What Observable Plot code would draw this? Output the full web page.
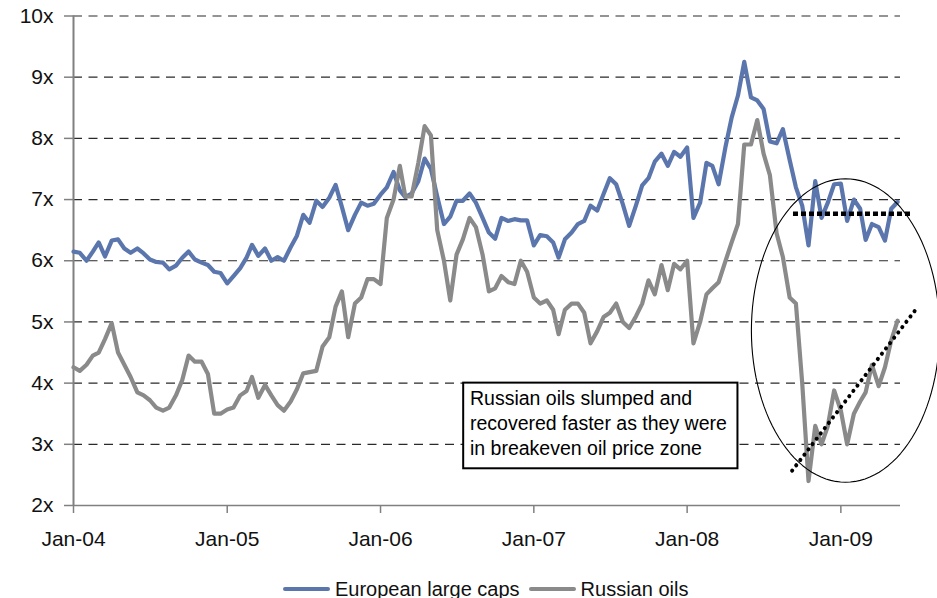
<!DOCTYPE html>
<html><head><meta charset="utf-8">
<script src="https://cdn.jsdelivr.net/npm/d3@7"></script>
<script src="https://cdn.jsdelivr.net/npm/@observablehq/plot@0.6"></script>
<style>
html,body{margin:0;padding:0;background:#fff;}
#wrap{position:relative;width:937px;height:598px;overflow:hidden;font-family:"Liberation Sans",Arial,sans-serif;}
#legend{position:absolute;left:283px;top:577px;height:24px;display:flex;align-items:center;font-size:20px;color:#111;white-space:nowrap;}
.sw{display:inline-block;width:47px;height:4px;margin-right:5px;border-radius:2px;}
.item{display:flex;align-items:center;margin-right:9px;}
</style></head><body><div id="wrap"><div id="chart"></div><div id="legend"></div></div>
<script>
const dates = [
"2004-01-01","2004-01-16","2004-02-01","2004-02-16","2004-03-01","2004-03-16","2004-04-01","2004-04-16","2004-05-01","2004-05-16","2004-06-01","2004-06-16",
"2004-07-01","2004-07-16","2004-08-01","2004-08-16","2004-09-01","2004-09-16","2004-10-01","2004-10-16","2004-11-01","2004-11-16","2004-12-01","2004-12-16",
"2005-01-01","2005-01-16","2005-02-01","2005-02-16","2005-03-01","2005-03-16","2005-04-01","2005-04-16","2005-05-01","2005-05-16","2005-06-01","2005-06-16",
"2005-07-01","2005-07-16","2005-08-01","2005-08-16","2005-09-01","2005-09-16","2005-10-01","2005-10-16","2005-11-01","2005-11-16","2005-12-01","2005-12-16",
"2006-01-01","2006-01-16","2006-02-01","2006-02-16","2006-03-01","2006-03-16","2006-04-01","2006-04-16","2006-05-01","2006-05-16","2006-06-01","2006-06-16",
"2006-07-01","2006-07-16","2006-08-01","2006-08-16","2006-09-01","2006-09-16","2006-10-01","2006-10-16","2006-11-01","2006-11-16","2006-12-01","2006-12-16",
"2007-01-01","2007-01-16","2007-02-01","2007-02-16","2007-03-01","2007-03-16","2007-04-01","2007-04-16","2007-05-01","2007-05-16","2007-06-01","2007-06-16",
"2007-07-01","2007-07-16","2007-08-01","2007-08-16","2007-09-01","2007-09-16","2007-10-01","2007-10-16","2007-11-01","2007-11-16","2007-12-01","2007-12-16",
"2008-01-01","2008-01-16","2008-02-01","2008-02-16","2008-03-01","2008-03-16","2008-04-01","2008-04-16","2008-05-01","2008-05-16","2008-06-01","2008-06-16",
"2008-07-01","2008-07-16","2008-08-01","2008-08-16","2008-09-01","2008-09-16","2008-10-01","2008-10-16","2008-11-01","2008-11-16","2008-12-01","2008-12-16",
"2009-01-01","2009-01-16","2009-02-01","2009-02-16","2009-03-01","2009-03-16","2009-04-01","2009-04-16","2009-05-01","2009-05-16"
];

const europeanLargeCaps = [
6.15,6.13,6.0,6.15,6.3,6.07,6.33,6.35,6.2,6.13,6.2,6.12,
6.02,5.98,5.97,5.86,5.92,6.05,6.15,6.02,5.97,5.93,5.82,5.8,
5.63,5.75,5.88,6.05,6.26,6.08,6.2,6.0,6.06,6.0,6.22,6.41,
6.75,6.62,6.98,6.88,7.03,7.24,6.88,6.5,6.75,6.95,6.9,6.93,
7.08,7.2,7.45,7.15,7.04,7.1,7.3,7.67,7.5,7.05,6.6,6.72,
6.98,6.98,7.1,6.95,6.7,6.46,6.36,6.7,6.65,6.68,6.66,6.66,
6.25,6.42,6.4,6.3,6.05,6.35,6.46,6.6,6.65,6.9,6.82,7.09,
7.35,7.25,6.92,6.57,6.9,7.23,7.35,7.62,7.75,7.55,7.78,7.7,
7.85,6.7,6.95,7.6,7.55,7.25,7.85,8.34,8.7,9.25,8.67,8.62,
8.48,7.95,7.92,8.15,7.65,7.2,6.9,6.25,7.3,6.7,6.95,7.25,
7.26,6.65,7.0,6.85,6.34,6.6,6.55,6.33,6.85,6.96
];

const russianOils = [
4.26,4.2,4.3,4.45,4.5,4.72,4.98,4.5,4.3,4.1,3.85,3.8,
3.72,3.6,3.55,3.6,3.8,4.05,4.45,4.35,4.35,4.15,3.5,3.5,
3.57,3.6,3.8,3.87,4.1,3.76,3.97,3.8,3.64,3.55,3.7,3.9,
4.16,4.18,4.2,4.6,4.75,5.25,5.5,4.75,5.3,5.4,5.7,5.7,
5.62,6.7,7.0,7.55,7.05,7.05,7.6,8.2,8.05,6.5,6.0,5.35,
6.1,6.35,6.7,6.55,6.1,5.5,5.55,5.75,5.65,5.62,6.0,5.82,
5.4,5.3,5.35,5.2,4.8,5.2,5.3,5.3,5.15,4.65,4.85,5.08,
5.15,5.3,5.0,4.9,5.09,5.3,5.68,5.45,5.93,5.52,5.95,5.86,
6.0,4.65,5.0,5.45,5.55,5.65,5.99,6.3,6.6,7.9,7.9,8.3,
7.75,7.4,6.45,6.06,5.4,5.3,4.0,2.4,3.3,3.0,3.3,3.88,
3.55,3.0,3.5,3.7,3.85,4.3,3.95,4.26,4.7,5.02
];

const seriesNames = ["European large caps", "Russian oils"];
const seriesColors = ["#5a76ad", "#8a8a8a"];
const yTickValues = [2, 3, 4, 5, 6, 7, 8, 9, 10];
const xTickDates = ["2004-01-01","2005-01-01","2006-01-01","2007-01-01","2008-01-01","2009-01-01"];
const xDomainDates = ["2004-01-01", "2009-05-23"];
const noteText = "Russian oils slumped and\nrecovered faster as they were\nin breakeven oil price zone";

const parse = d3.utcParse("%Y-%m-%d");
const xDomain = xDomainDates.map(parse);
const toRows = (vals) => dates.map((d, i) => ({date: parse(d), value: vals[i]}));
const euRows = toRows(europeanLargeCaps);
const ruRows = toRows(russianOils);

// annotations (in data coordinates)
const noteBox = {x1: parse("2006-07-18"), x2: parse("2008-05-01"), y1: 2.6, y2: 4.0};
const noteLabel = {x: parse("2006-08-02"), y: 3.36, text: noteText};
const flatLine = [{date: parse("2008-09-09"), value: 6.77}, {date: parse("2009-06-17"), value: 6.77}];
const trendLine = [{date: parse("2008-09-07"), value: 2.57}, {date: parse("2009-06-27"), value: 5.19}];
const ell = {cx: parse("2009-01-12"), cy: 4.86, rxDays: 224, ry: 2.48};
const ellipsePts = d3.range(0, 361, 3).map(a => {
  const t = a * Math.PI / 180;
  return {date: new Date(+ell.cx + Math.cos(t) * ell.rxDays * 864e5), value: ell.cy + Math.sin(t) * ell.ry};
});

const chart = Plot.plot({
  width: 937, height: 570,
  marginLeft: 73, marginRight: 37, marginTop: 15.5, marginBottom: 65,
  style: {fontFamily: "'Liberation Sans', Arial, sans-serif", fontSize: "21px", color: "#111", background: "#fff", overflow: "visible"},
  x: {type: "utc", domain: xDomain, ticks: xTickDates.map(parse), tickFormat: d3.utcFormat("%b-%y"), tickSize: 8, tickPadding: 18, label: null},
  y: {domain: [2, 10], ticks: yTickValues, tickFormat: d => d + "x", tickSize: 9, tickPadding: 11, label: null},
  marks: [
    Plot.ruleY(yTickValues.filter(v => v > 2), {stroke: "#2a2a2a", strokeWidth: 1.2, strokeDasharray: "9,6.5"}),
    Plot.rect([noteBox], {x1: "x1", x2: "x2", y1: "y1", y2: "y2", fill: "#fff", stroke: "#000", strokeWidth: 2}),
    Plot.text([noteLabel], {x: "x", y: "y", text: "text", textAnchor: "start", lineAnchor: "middle", lineHeight: 1.28, fontSize: 19.5, fill: "#000"}),
    Plot.ruleY([2], {stroke: "#808080", strokeWidth: 1.6}),
    Plot.ruleX([xDomain[0]], {y1: 2, y2: 10, stroke: "#808080", strokeWidth: 2}),
    Plot.line(euRows, {x: "date", y: "value", stroke: seriesColors[0], strokeWidth: 4.2}),
    Plot.line(ruRows, {x: "date", y: "value", stroke: seriesColors[1], strokeWidth: 4.2}),
    Plot.line(ellipsePts, {x: "date", y: "value", stroke: "#000", strokeWidth: 1.1}),
    Plot.line(flatLine, {x: "date", y: "value", stroke: "#000", strokeWidth: 4.5, strokeDasharray: "5,3", strokeLinecap: "butt"}),
    Plot.line(trendLine, {x: "date", y: "value", stroke: "#000", strokeWidth: 4, strokeDasharray: "0.1,6.6", strokeLinecap: "round"})
  ]
});
document.getElementById("chart").appendChild(chart);
d3.select(chart).selectAll("g[aria-label='x-axis tick'] path, g[aria-label='y-axis tick'] path")
  .attr("stroke", "#808080").attr("stroke-width", 1.5);

const legend = d3.select("#legend");
seriesNames.forEach((name, i) => {
  const item = legend.append("div").attr("class", "item");
  item.append("span").attr("class", "sw").style("background", seriesColors[i]);
  item.append("span").text(name);
});
</script></body></html>
